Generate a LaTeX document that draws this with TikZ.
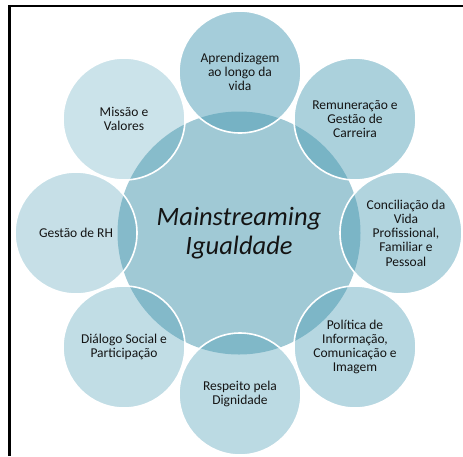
\documentclass[tikz,border=0pt]{standalone}
\usepackage{fontspec}
\setmainfont{Carlito}
\definecolor{bigc}{RGB}{160,201,213}
\definecolor{satc}{RGB}{77,157,181}
\definecolor{txt}{RGB}{20,20,20}
\begin{document}
\begin{tikzpicture}[x=1pt,y=-1pt,
  sat/.style={circle,minimum size=122pt,inner sep=0pt,fill=satc,draw=white,
    line width=1.6pt,text=txt,text opacity=1,draw opacity=1,align=center,
    font=\fontsize{13.5}{14.3}\selectfont},
  core/.style={circle,minimum size=243pt,inner sep=0pt,fill=bigc,text=txt,
    align=center,font=\fontsize{26.5}{29}\selectfont\itshape}]
\useasboundingbox (0,0) rectangle (463,456);
\begin{scope}
\clip (0,0) rectangle (463,456);
\node[core] (core) at (239,233) {Mainstreaming\\Igualdade};
\node[sat,fill opacity=0.505] (a) at (240,72) {Aprendizagem\\ao longo da\\vida};
\node[sat,fill opacity=0.47] (b) at (355,119) {Remuneração e\\Gestão de\\Carreira};
\node[sat,fill opacity=0.44] (c) at (401,233) {\hspace*{10pt}Conciliação da\\\hspace*{10pt}Vida\\\hspace*{10pt}Profissional,\\\hspace*{10pt}Familiar e\\\hspace*{10pt}Pessoal};
\node[sat,fill opacity=0.41] (d) at (355,347) {Política de\\Informação,\\Comunicação e\\Imagem};
\node[sat,fill opacity=0.38] (e) at (240,394) {Respeito pela\\Dignidade};
\node[sat,fill opacity=0.35] (f) at (124,347) {Diálogo Social e\\Participação};
\node[sat,fill opacity=0.32] (g) at (76,233) {Gestão de RH};
\node[sat,fill opacity=0.29] (h) at (124,119) {Missão e\\Valores};
\end{scope}
\coordinate (fbl) at (9.5,456);
\coordinate (ftl) at (9.5,6);
\coordinate (ftr) at (463,6);
\draw[line width=2.5pt] (fbl) -- (ftl) -- (ftr);
\end{tikzpicture}
\end{document}
